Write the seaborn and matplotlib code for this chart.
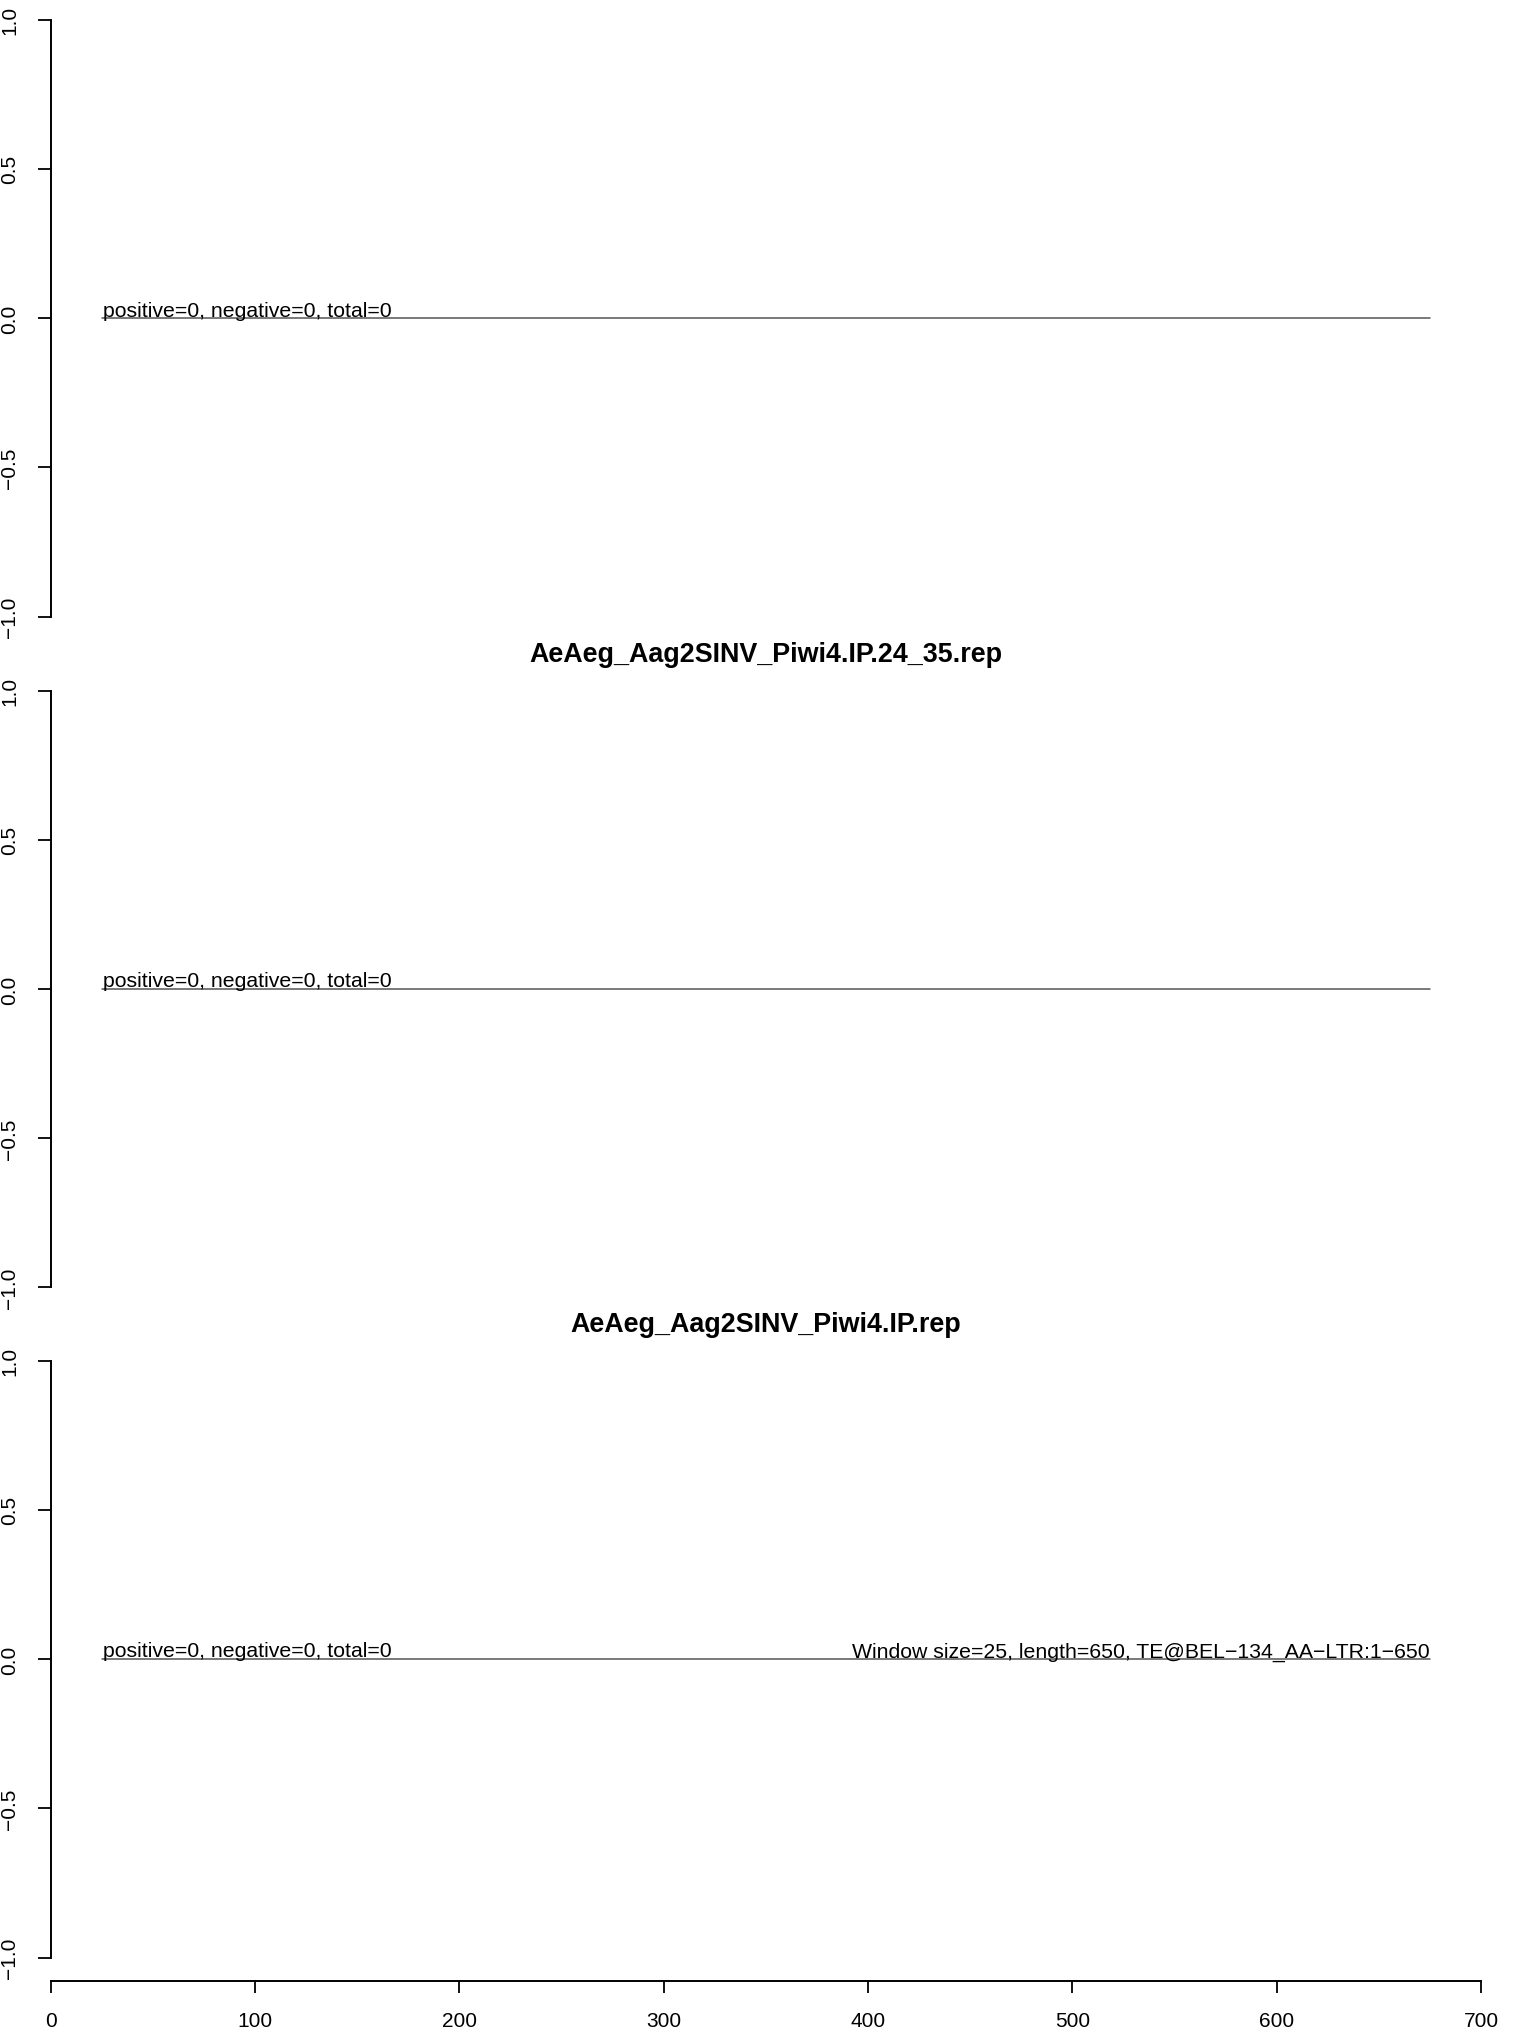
import matplotlib
matplotlib.use("Agg")
import matplotlib.pyplot as plt
import seaborn as sns
import pandas as pd

# ---- data ----
panel_titles = ["", "AeAeg_Aag2SINV_Piwi4.IP.24_35.rep", "AeAeg_Aag2SINV_Piwi4.IP.rep"]
positive_counts = [0, 0, 0]
negative_counts = [0, 0, 0]
window_pos = [25, 50, 75, 100, 125, 150, 175, 200, 225, 250, 275, 300, 325, 350,
              375, 400, 425, 450, 475, 500, 525, 550, 575, 600, 625, 650, 675]
window_vals = [0, 0, 0, 0, 0, 0, 0, 0, 0, 0, 0, 0, 0, 0,
               0, 0, 0, 0, 0, 0, 0, 0, 0, 0, 0, 0, 0]
window_size = 25
te_length = 650
te_name = "TE@BEL\u2212134_AA\u2212LTR:1\u2212650"
x_ticks = [0, 100, 200, 300, 400, 500, 600, 700]
y_ticks = [-1.0, -0.5, 0.0, 0.5, 1.0]
y_tick_labels = ["\u22121.0", "\u22120.5", "0.0", "0.5", "1.0"]

sns.set_theme(style="ticks")
plt.rcParams["font.family"] = ["Liberation Sans", "DejaVu Sans"]
plt.rcParams["text.color"] = "black"
plt.rcParams["axes.labelcolor"] = "black"
plt.rcParams["xtick.color"] = "black"
plt.rcParams["ytick.color"] = "black"
plt.rcParams["axes.edgecolor"] = "black"

W, H = 1518, 2033
fig = plt.figure(figsize=(W / 100, H / 100), dpi=100)

left_px, right_px = 50.7, 1481.0
panels_px = [(-3.2, 641.5), (667.8, 1312.2), (1337.8, 1982.4)]

df = pd.DataFrame({"pos": window_pos, "val": window_vals})

for i, (top, bot) in enumerate(panels_px):
    ax = fig.add_axes([left_px / W, 1 - bot / H, (right_px - left_px) / W, (bot - top) / H])
    sns.lineplot(data=df, x="pos", y="val", ax=ax, color="#555555", linewidth=1.1)
    ax.set_xlim(0, 700)
    ax.set_ylim(-1.08, 1.08)
    ax.set_xlabel("")
    ax.set_ylabel("")
    ax.set_yticks(y_ticks)
    ax.set_yticklabels(y_tick_labels, rotation=90, va="center", fontsize=15)
    ax.tick_params(axis="y", length=9.6, width=1.3, pad=13, colors="black")
    ax.spines["left"].set_bounds(-1.0, 1.0)
    ax.spines["left"].set_linewidth(1.4)
    ax.spines["left"].set_color("black")
    ax.spines["top"].set_visible(False)
    ax.spines["right"].set_visible(False)
    if i < 2:
        ax.spines["bottom"].set_visible(False)
        ax.set_xticks([])
    else:
        ax.set_xticks(x_ticks)
        ax.set_xticklabels([str(t) for t in x_ticks], fontsize=15)
        ax.tick_params(axis="x", length=8.6, width=1.3, pad=13, colors="black")
        ax.spines["bottom"].set_linewidth(1.4)
        ax.spines["bottom"].set_color("black")
        ax.spines["bottom"].set_bounds(0, 700)
    ax.patch.set_alpha(0)

    total = positive_counts[i] + negative_counts[i]
    ax.annotate(f"positive={positive_counts[i]}, negative={negative_counts[i]}, total={total}",
                xy=(window_pos[0], 0), xytext=(0.7, 1.9), textcoords="offset points",
                ha="left", va="baseline", fontsize=15.3, color="black")
    if i == 2:
        ax.annotate(f"Window size={window_size}, length={te_length}, {te_name}",
                    xy=(window_pos[-1], 0), xytext=(0, 1.9), textcoords="offset points",
                    ha="right", va="baseline", fontsize=15.3, color="black")
    if panel_titles[i]:
        ax.set_title(panel_titles[i], fontsize=19.4, fontweight="bold", pad=-1.2, color="black")

fig.savefig("out.png", dpi=100)
